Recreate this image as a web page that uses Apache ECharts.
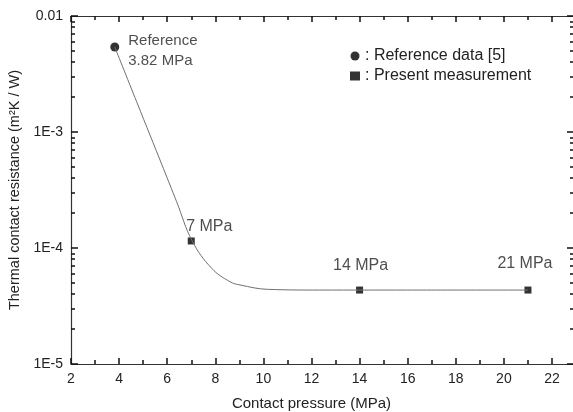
<!DOCTYPE html>
<html>
<head>
<meta charset="utf-8">
<style>
  html, body { margin: 0; padding: 0; background: #fff; }
  #chart { width: 573px; height: 412px; }
</style>
<script src="https://cdn.jsdelivr.net/npm/echarts@6/dist/echarts.min.js"></script>
</head>
<body>
<div id="chart"></div>
<script>
// measured points
const refPressure = [3.82]
const refResistance = [5.4e-3]
const refLabels = ['Reference\n3.82 MPa']

const measPressure = [7, 14, 21]
const measResistance = [1.15e-4, 4.34e-5, 4.34e-5]
const measLabels = ['7 MPa', '14 MPa', '21 MPa']

// fitted curve
const curvePressure = [3.82, 4.73, 5.84, 6.39, 7.04, 7.85, 8.61, 9.03, 10.2, 12.35, 16, 21]
const curveResistance = [5.4e-3, 1.82e-3, 4.86e-4, 2.51e-4, 1.15e-4, 6.68e-5, 5.12e-5, 4.8e-5, 4.4e-5, 4.34e-5, 4.34e-5, 4.34e-5]

// axis ticks
const yTicks = [1e-5, 1e-4, 1e-3, 1e-2]
const yTickLabels = ['1E-5', '1E-4', '1E-3', '0.01']

const yMinorTicks = []
yTicks.slice(0, 3).forEach(d => {
  for (let k = 2; k <= 9; k++) yMinorTicks.push(+(d * k).toPrecision(3))
})

const font = 'Liberation Sans, Arial, sans-serif'
const ink = '#222'
const dark = '#333'
const tickStyle = { color: '#111', width: 1.5 }

function line(show) {
  return { show: show, lineStyle: { color: dark, width: 1.2 } }
}

// x axes of the main grid (bottom with labels, top mirror)
function mainX(position, withLabels) {
  return {
    type: 'value', gridIndex: 0, position: position, min: 2, max: 22, interval: 2,
    axisLine: line(true),
    splitLine: { show: false },
    axisTick: { show: true, inside: true, length: 6, lineStyle: tickStyle },
    minorTick: { show: true, splitNumber: 2, length: 4, lineStyle: tickStyle },
    axisLabel: { show: withLabels, margin: 8, color: ink, fontSize: 14, fontFamily: font },
    name: withLabels ? 'Contact pressure (MPa)' : '',
    nameLocation: 'middle', nameGap: 32,
    nameTextStyle: { color: ink, fontSize: 15, fontFamily: font }
  }
}

// thin strip on the right so the frame reaches the edge of the picture
function stripX(position) {
  return {
    type: 'value', gridIndex: 1, position: position, min: 22, max: 23,
    axisLine: line(true), axisTick: { show: false }, axisLabel: { show: false },
    splitLine: { show: false }
  }
}

function logY(grid, position, offset, ticks, len, opts) {
  return Object.assign({
    type: 'log', logBase: 10, gridIndex: grid, position: position, offset: offset,
    min: 1e-5, max: 1e-2,
    axisLine: line(false),
    splitLine: { show: false },
    axisTick: { show: true, inside: false, length: len, customValues: ticks, lineStyle: tickStyle },
    axisLabel: { show: false, customValues: ticks }
  }, opts || {})
}

const labelPos = [
  { offset: [18, 0], distance: 3 },
  { offset: [1, 0], distance: 13 },
  { offset: [-3, 0], distance: 15 }
]

const chart = echarts.init(document.getElementById('chart'))

chart.setOption({
  animation: false,
  backgroundColor: '#fff',
  grid: [
    { left: 71, top: 16, right: 21, bottom: 48, outerBoundsMode: 'none' },
    { left: 552, top: 16, right: -1, bottom: 48, outerBoundsMode: 'none' }
  ],
  legend: {
    orient: 'vertical', left: 345, top: 43, itemGap: 4,
    itemWidth: 10, itemHeight: 9,
    textStyle: { color: ink, fontSize: 16, fontFamily: font },
    data: [
      { name: ': Reference data [5]', icon: 'circle' },
      { name: ': Present measurement', icon: 'rect' }
    ]
  },
  xAxis: [mainX('bottom', true), mainX('top', false), stripX('bottom'), stripX('top')],
  yAxis: [
    logY(0, 'left', 0, yTicks, 7, {
      axisLine: line(true),
      axisTick: { show: true, inside: true, length: 7, lineStyle: tickStyle },
      axisLabel: {
        show: true, margin: 8, color: ink, fontSize: 14, fontFamily: font,
        formatter: v => yTickLabels[yTicks.findIndex(t => Math.abs(Math.log10(t) - Math.log10(v)) < 1e-6)] || ''
      },
      name: 'Thermal contact resistance (m²K / W)',
      nameLocation: 'middle', nameGap: 46, nameRotate: 90,
      nameTextStyle: { color: ink, fontSize: 14.5, fontFamily: font }
    }),
    // minor ticks along the left edge, pointing into the plot
    logY(0, 'right', -481, yMinorTicks, 4),
    // right frame edge, just outside the picture
    logY(1, 'right', 0, yTicks, 7, {
      axisLine: line(true),
      axisTick: { show: true, inside: true, length: 7, lineStyle: tickStyle }
    }),
    logY(1, 'left', -22, yMinorTicks, 4)
  ],
  series: [
    {
      name: 'fit', type: 'line', smooth: 0.4,
      xAxisIndex: 0, yAxisIndex: 0,
      showSymbol: false, silent: true,
      lineStyle: { color: '#707070', width: 1 },
      data: curvePressure.map((x, i) => [x, curveResistance[i]])
    },
    {
      name: ': Reference data [5]', type: 'scatter', symbol: 'circle', symbolSize: 9,
      xAxisIndex: 0, yAxisIndex: 0,
      itemStyle: { color: '#000' },
      label: {
        show: true, position: 'right', distance: 9, offset: [0, 4],
        color: ink, fontSize: 15, fontFamily: font, lineHeight: 20,
        formatter: p => refLabels[p.dataIndex]
      },
      data: refPressure.map((x, i) => [x, refResistance[i]])
    },
    {
      name: ': Present measurement', type: 'scatter', symbol: 'rect', symbolSize: 7,
      xAxisIndex: 0, yAxisIndex: 0,
      itemStyle: { color: '#000' },
      label: {
        show: true, position: 'top',
        color: ink, fontSize: 16, fontFamily: font,
        formatter: p => measLabels[p.dataIndex]
      },
      data: measPressure.map((x, i) => ({ value: [x, measResistance[i]], label: labelPos[i] }))
    }
  ]
})
</script>
</body>
</html>
